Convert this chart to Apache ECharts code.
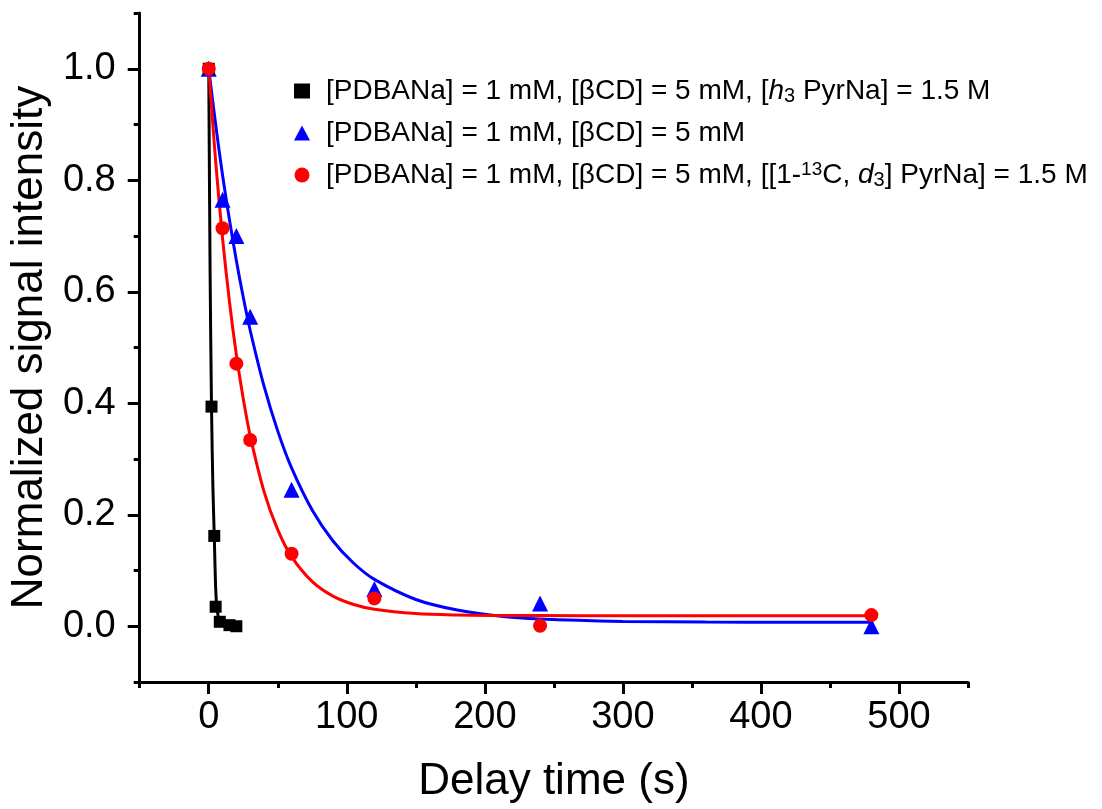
<!DOCTYPE html>
<html>
<head>
<meta charset="utf-8">
<script src="https://cdn.jsdelivr.net/npm/echarts@6/dist/echarts.min.js"></script>
<style>html,body{margin:0;padding:0;background:#fff}#c{width:1102px;height:809px}</style>
</head>
<body>
<div id="c"></div>
<script>
// ---- data ----
const xMajorTicks = [0, 100, 200, 300, 400, 500];
const xMinorTicks = [-50, 50, 150, 250, 350, 450, 550];
const yMajorTicks = [0.0, 0.2, 0.4, 0.6, 0.8, 1.0];
const yMinorTicks = [-0.1, 0.1, 0.3, 0.5, 0.7, 0.9, 1.1];

const nameBlack = '[PDBANa] = 1 mM, [βCD] = 5 mM, [h3 PyrNa] = 1.5 M';
const nameBlue  = '[PDBANa] = 1 mM, [βCD] = 5 mM';
const nameRed   = '[PDBANa] = 1 mM, [βCD] = 5 mM, [[1-13C, d3] PyrNa] = 1.5 M';

const blackT = [0, 2, 4, 5, 8, 15, 20];
const blackY = [1.0, 0.394, 0.162, 0.035, 0.008, 0.002, 0.0];
const blueT  = [0, 10, 20, 30, 60, 120, 240, 480];
const blueY  = [1.0, 0.765, 0.70, 0.555, 0.245, 0.067, 0.041, 0.0];
const redT   = [0, 10, 20, 30, 60, 120, 240, 480];
const redY   = [1.0, 0.714, 0.471, 0.334, 0.130, 0.050, 0.001, 0.020];

// fitted curves
const blackFitT = [0, 1, 2, 3, 4, 5, 6, 8, 10, 15, 20];
const blackFitY = [1.0, 0.63, 0.394, 0.25, 0.162, 0.07, 0.03, 0.008, 0.004, 0.001, 0.0];
const blueFitT = [0, 5, 10, 15, 20, 25, 30, 40, 50, 60, 75, 90, 105, 120, 150, 180, 210, 240, 300, 360, 420, 480];
const blueFitY = [1.0, 0.900, 0.809, 0.729, 0.656, 0.590, 0.531, 0.431, 0.350, 0.284, 0.208, 0.153, 0.113, 0.084, 0.048, 0.029, 0.0184, 0.013, 0.0087, 0.0075, 0.0071, 0.007];
const redFitT = [0, 5, 10, 15, 20, 25, 30, 40, 50, 60, 75, 90, 105, 120, 150, 180, 210, 240, 300, 360, 420, 480];
const redFitY = [1.0, 0.834, 0.696, 0.582, 0.487, 0.408, 0.342, 0.242, 0.173, 0.125, 0.080, 0.054, 0.039, 0.0305, 0.0228, 0.0202, 0.0194, 0.0191, 0.019, 0.019, 0.019, 0.019];

const legendRich = {};
legendRich[nameBlack] = '[PDBANa] = 1 mM, [βCD] = 5 mM, [{i|h}{sub|3} PyrNa] = 1.5 M';
legendRich[nameBlue]  = '[PDBANa] = 1 mM, [βCD] = 5 mM';
legendRich[nameRed]   = '[PDBANa] = 1 mM, [βCD] = 5 mM, [[1-{sup|13}C, {i|d}{sub|3}] PyrNa] = 1.5 M';

const zip = (a, b) => a.map((v, i) => [v, b[i]]);
const FONT = 'Liberation Sans, Arial, sans-serif';

const chart = echarts.init(document.getElementById('c'), null, {renderer: 'canvas'});
const axisCommon = {
  type: 'value', splitLine: {show: false}
};
chart.setOption({
  backgroundColor: '#ffffff',
  animation: false,
  grid: {left: 137, right: 134, top: 13, bottom: 126, containLabel: false},
  legend: {
    orient: 'vertical', left: 289, top: 71, itemGap: 12,
    itemWidth: 16, itemHeight: 15,
    data: [nameBlack, nameBlue, nameRed],
    formatter: n => legendRich[n],
    textStyle: {
      fontFamily: FONT, fontSize: 28, color: '#000', lineHeight: 30, padding: [0, 0, 0, 11],
      rich: {
        i: {fontFamily: FONT, fontSize: 28, fontStyle: 'italic', color: '#000', lineHeight: 30},
        sub: {fontFamily: FONT, fontSize: 20, color: '#000', verticalAlign: 'bottom', lineHeight: 10},
        sup: {fontFamily: FONT, fontSize: 19, color: '#000', verticalAlign: 'top', lineHeight: 12}
      }
    }
  },
  xAxis: [
    Object.assign({}, axisCommon, {
      min: -50, max: 550, position: 'bottom',
      name: 'Delay time (s)', nameLocation: 'middle', nameGap: 78,
      nameTextStyle: {fontFamily: FONT, fontSize: 44, color: '#000'},
      axisLine: {show: true, onZero: false, lineStyle: {color: '#000', width: 3}},
      axisTick: {show: true, inside: false, length: 12, lineStyle: {color: '#000', width: 3}, customValues: xMajorTicks},
      axisLabel: {show: true, margin: 17, fontFamily: FONT, fontSize: 38, color: '#000', customValues: xMajorTicks}
    }),
    Object.assign({}, axisCommon, {
      min: -50, max: 550, position: 'bottom',
      axisLine: {show: false, onZero: false},
      axisTick: {show: true, inside: false, length: 6, lineStyle: {color: '#000', width: 3}, customValues: xMinorTicks},
      axisLabel: {show: false}
    })
  ],
  yAxis: [
    Object.assign({}, axisCommon, {
      min: -0.1, max: 1.1, position: 'left',
      name: 'Normalized signal intensity', nameLocation: 'middle', nameGap: 80,
      nameTextStyle: {fontFamily: FONT, fontSize: 44, color: '#000'},
      axisLine: {show: true, onZero: false, lineStyle: {color: '#000', width: 3}},
      axisTick: {show: true, inside: false, length: 12, lineStyle: {color: '#000', width: 3}, customValues: yMajorTicks},
      axisLabel: {show: true, margin: 24, fontFamily: FONT, fontSize: 38, color: '#000',
        customValues: yMajorTicks, formatter: v => Number(v).toFixed(1)}
    }),
    Object.assign({}, axisCommon, {
      min: -0.1, max: 1.1, position: 'left',
      axisLine: {show: false, onZero: false},
      axisTick: {show: true, inside: false, length: 6, lineStyle: {color: '#000', width: 3}, customValues: yMinorTicks},
      axisLabel: {show: false}
    })
  ],
  series: [
    {type: 'line', name: 'fitBlack', data: zip(blackFitT, blackFitY), smooth: 0.3, showSymbol: false,
      lineStyle: {color: '#000000', width: 3}, z: 2},
    {type: 'line', name: 'fitBlue', data: zip(blueFitT, blueFitY), smooth: 0.3, showSymbol: false,
      lineStyle: {color: '#0000ff', width: 3}, z: 2},
    {type: 'line', name: 'fitRed', data: zip(redFitT, redFitY), smooth: 0.3, showSymbol: false,
      lineStyle: {color: '#ff0000', width: 3}, z: 2},
    {type: 'scatter', name: nameBlack, data: zip(blackT, blackY), symbol: 'rect', symbolSize: 12,
      itemStyle: {color: '#000000', opacity: 1}, z: 5},
    {type: 'scatter', name: nameBlue, data: zip(blueT, blueY), symbol: 'triangle', symbolSize: 16,
      itemStyle: {color: '#0000ff', opacity: 1}, z: 4},
    {type: 'scatter', name: nameRed, data: zip(redT, redY), symbol: 'circle', symbolSize: 14,
      itemStyle: {color: '#ff0000', opacity: 1}, z: 6}
  ]
});
</script>
</body>
</html>
